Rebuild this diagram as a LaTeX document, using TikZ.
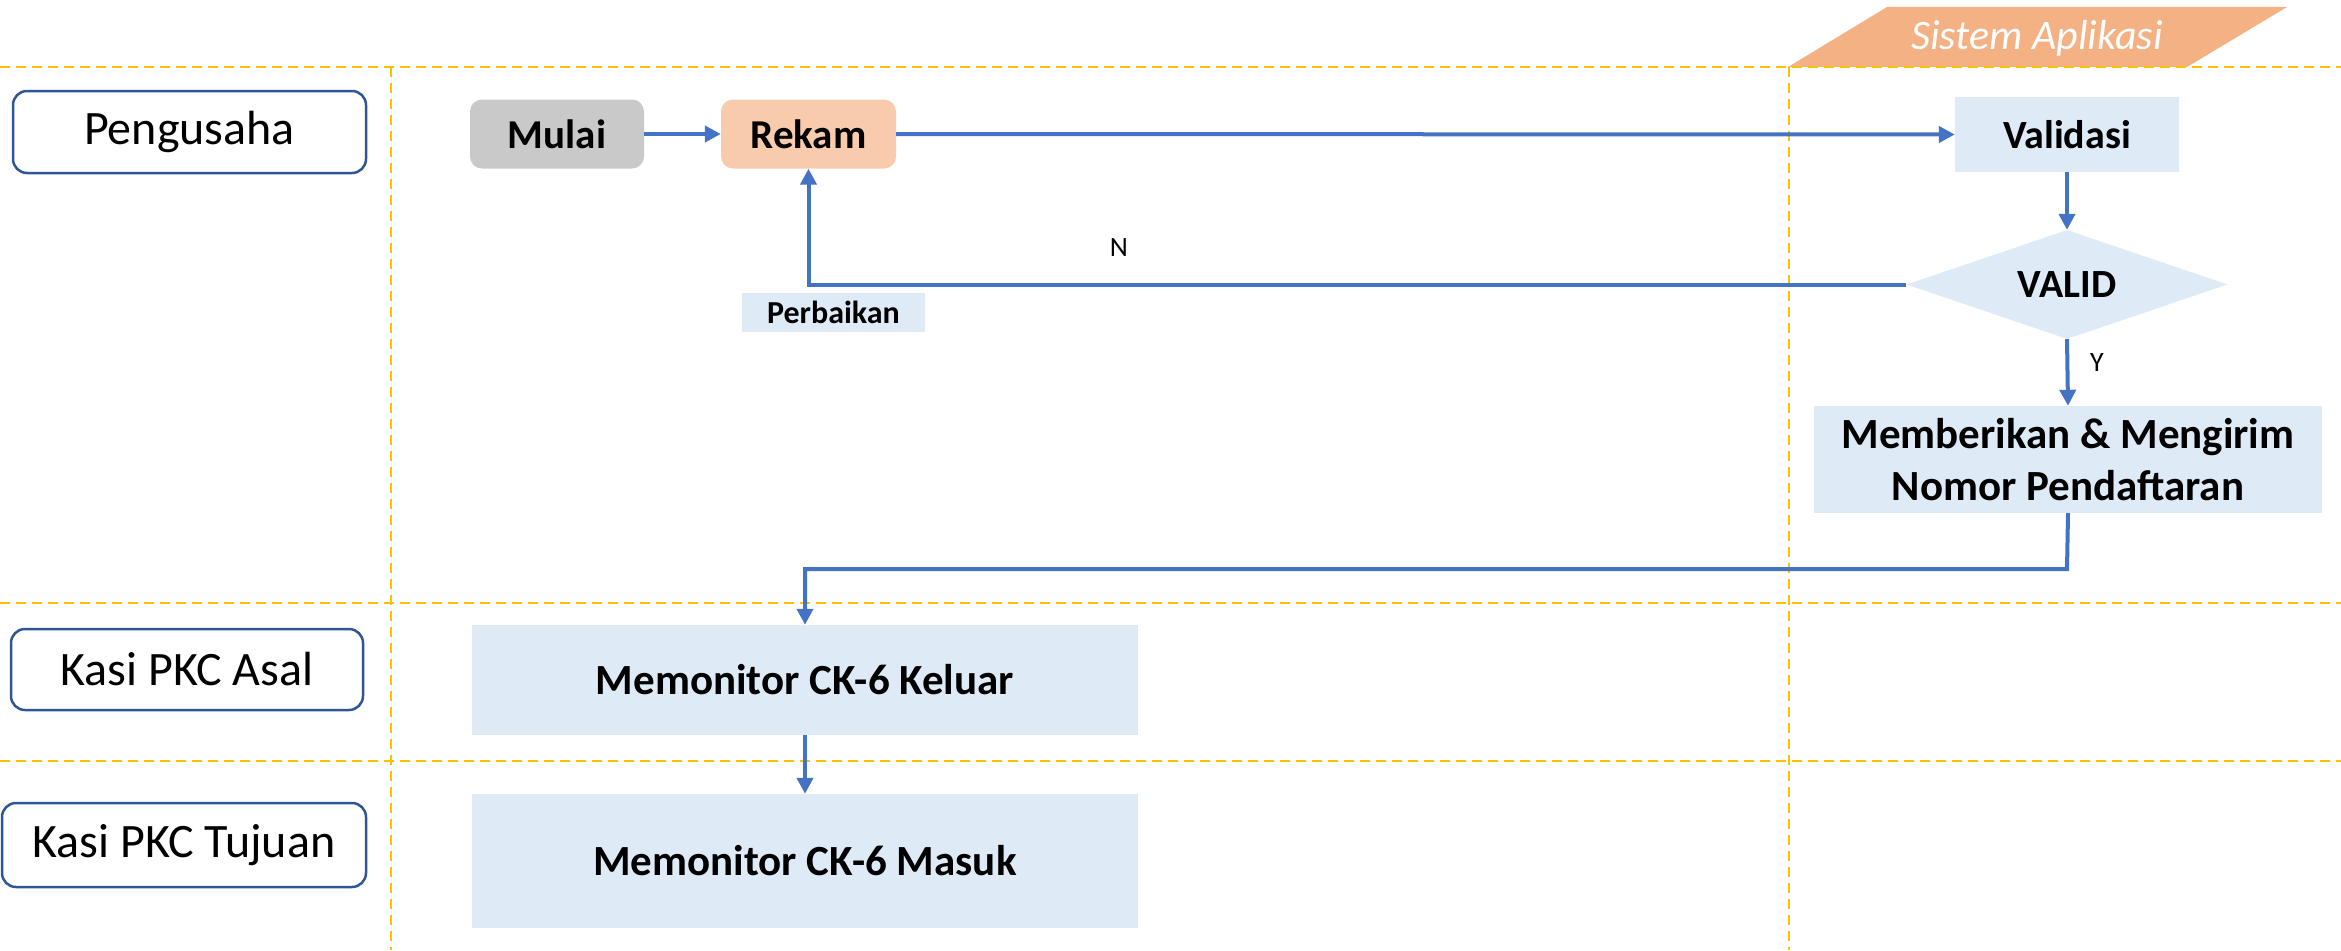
\documentclass[tikz,border=0pt]{standalone}
\usepackage{fontspec}
\setmainfont{Carlito}
\usetikzlibrary{arrows.meta,shapes.geometric}
\definecolor{arrowblue}{HTML}{4472C4}
\definecolor{lanegold}{HTML}{FFC000}
\definecolor{laneborder}{HTML}{2F5597}
\definecolor{boxblue}{HTML}{DEEBF7}
\definecolor{startgray}{HTML}{C9C9C9}
\definecolor{rekamfill}{HTML}{F8CBAD}
\definecolor{headfill}{HTML}{F4B183}
\tikzset{
  lanesep/.style={draw=lanegold, line width=2.5pt, dash pattern=on 10pt off 6pt},
  lanelabel/.style={draw=laneborder, line width=2.5pt, fill=white, rounded corners=14pt, inner sep=0pt, font=\fontsize{48}{56}\selectfont},
  procbox/.style={fill=boxblue, inner sep=0pt, font=\bfseries\fontsize{40}{52}\selectfont, align=center},
  bigbox/.style={procbox, font=\bfseries\fontsize{43}{52}\selectfont},
  roundbox/.style={rounded corners=12pt, inner sep=0pt, font=\bfseries\fontsize{41}{48}\selectfont},
  flow/.style={draw=arrowblue, line width=4pt, -{Triangle[length=16pt,width=16pt]}},
  smalllabel/.style={font=\fontsize{28}{32}\selectfont, inner sep=0pt}
}
\begin{document}
\begin{tikzpicture}[x=1pt,y=-1pt]
\useasboundingbox (0,0) rectangle (2341,950);
% header
\path[fill=headfill] (1788,67) -- (1887,7) -- (2287,7) -- (2187,67) -- cycle;
\node[text=white, font=\itshape\fontsize{42}{48}\selectfont, inner sep=0pt] (head) at (2037,38) {Sistem Aplikasi};
% lane separators
\draw[lanesep] (0,67) -- (2341,67);
\draw[lanesep] (0,603) -- (2341,603);
\draw[lanesep] (0,761) -- (2341,761);
\draw[lanesep] (391,67) -- (391,950);
\draw[lanesep] (1789,67) -- (1789,950);
% lane labels
\node[lanelabel, minimum width=353pt, minimum height=82pt] (pengusaha) at (189.5,132) {Pengusaha};
\node[lanelabel, minimum width=352pt, minimum height=81pt] (asal) at (187,669.5) {Kasi PKC Asal};
\node[lanelabel, minimum width=364pt, minimum height=84pt] (tujuan) at (184,845) {Kasi PKC Tujuan};
% process nodes
\node[roundbox, fill=startgray, minimum width=174pt, minimum height=69pt] (mulai) at (557,134) {Mulai};
\node[roundbox, fill=rekamfill, minimum width=175pt, minimum height=69pt] (rekam) at (808.5,134) {Rekam};
\node[procbox, minimum width=224pt, minimum height=75pt] (validasi) at (2067,134.5) {Validasi};
\node[procbox, shape=diamond, aspect=2.94, minimum width=321pt, minimum height=109pt] (valid) at (2067,284.5) {VALID};
\node[procbox, font=\bfseries\fontsize{32}{36}\selectfont, minimum width=183pt, minimum height=39pt] (perbaikan) at (833.5,312.5) {Perbaikan};
\node[bigbox, minimum width=508pt, minimum height=107pt] (memberikan) at (2068,459.5) {Memberikan \& Mengirim\\Nomor Pendaftaran};
\node[bigbox, minimum width=666pt, minimum height=110pt] (keluar) at (805,680) {Memonitor CK-6 Keluar};
\node[bigbox, minimum width=666pt, minimum height=134pt] (masuk) at (805,861) {Memonitor CK-6 Masuk};
% labels
\node[smalllabel] (nlabel) at (1119,248) {N};
\node[smalllabel] (ylabel) at (2097,363) {Y};
% connectors
\draw[flow] (mulai.east) -- (rekam.west);
\draw[flow] (rekam.east) -- (validasi.west);
\draw[flow] (validasi.south) -- (valid.north);
\draw[flow] (valid.west) -- (rekam.south |- valid.west) -- (rekam.south);
\draw[flow] (valid.south) -- (memberikan.north);
\coordinate (bend) at (2067,569);
\draw[flow] (memberikan.south) -- (bend) -| (keluar.north);
\draw[flow] (keluar.south) -- (masuk.north);
\end{tikzpicture}
\end{document}
